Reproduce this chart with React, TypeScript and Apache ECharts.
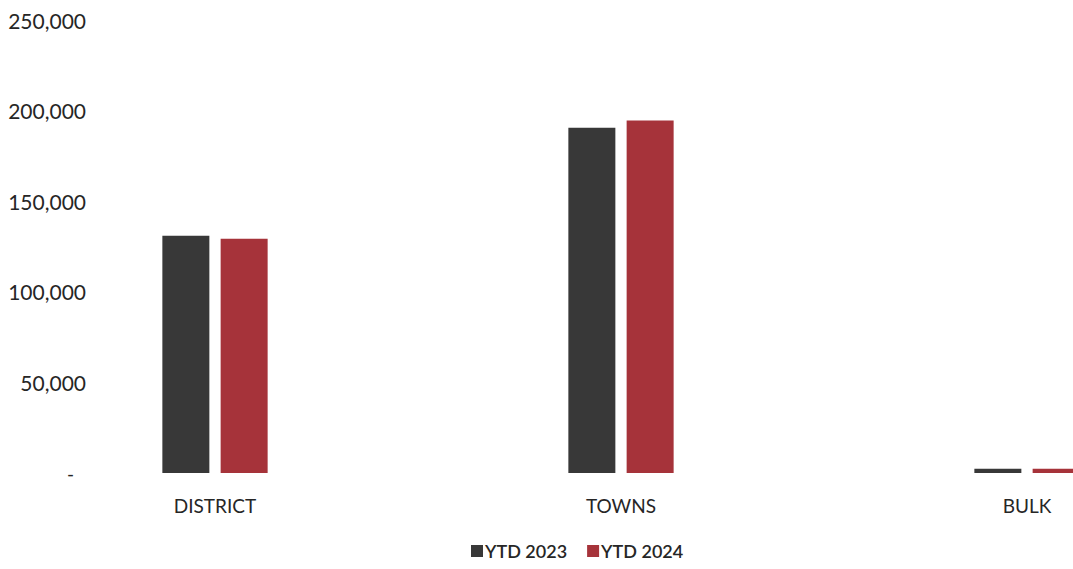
import React, { useEffect, useRef } from "react";
import * as echarts from "echarts";

const categories = ["DISTRICT", "TOWNS", "BULK"];
const ytd2023 = [131000, 190500, 2400];
const ytd2024 = [129300, 194500, 2300];
const seriesNames = ["YTD 2023", "YTD 2024"];
const yTicks = [0, 50000, 100000, 150000, 200000, 250000];

export default function App() {
  const ref = useRef<HTMLDivElement>(null);
  useEffect(() => {
    document.body.style.margin = "0";
    const chart = echarts.init(ref.current!, undefined, { renderer: "svg" });
    const font = "Lato, 'Open Sans', sans-serif";
    chart.setOption({
      animation: false,
      backgroundColor: "#ffffff",
      grid: { left: 12, width: 1218, top: 20, bottom: 96, containLabel: false, outerBoundsMode: "none" },
      legend: {
        bottom: 4,
        left: 466,
        itemWidth: 12,
        itemHeight: 12,
        itemGap: 20,
        icon: "rect",
        textStyle: { fontFamily: font, fontSize: 18, color: "#262626", fontWeight: 600, padding: [0, 0, 0, -3] },
        data: seriesNames,
      },
      xAxis: {
        type: "category",
        data: categories,
        axisLine: { show: false },
        axisTick: { show: false },
        axisLabel: { fontFamily: font, fontSize: 19, color: "#262626", margin: 23 },
      },
      yAxis: {
        type: "value",
        min: yTicks[0],
        max: yTicks[yTicks.length - 1],
        interval: 50000,
        offset: -80,
        splitLine: { show: false },
        axisLine: { show: false },
        axisTick: { show: false },
        axisLabel: {
          fontFamily: font,
          fontSize: 21,
          color: "#262626",
          margin: 6,
          formatter: (v: number) =>
            v === 0 ? "{d|-}" : v.toLocaleString("en-US"),
          rich: { d: { fontFamily: font, fontSize: 19, color: "#262626", padding: [0, 12, 0, 0] } },
        },
      },
      series: [
        {
          name: seriesNames[0],
          type: "bar",
          data: ytd2023,
          barWidth: 47,
          barGap: "24%",
          itemStyle: { color: "#383838" },
        },
        {
          name: seriesNames[1],
          type: "bar",
          data: ytd2024,
          barWidth: 47,
          itemStyle: { color: "#a6333a" },
        },
      ],
    });
    return () => chart.dispose();
  }, []);
  return <div ref={ref} style={{ width: 1073, height: 569 }} />;
}
